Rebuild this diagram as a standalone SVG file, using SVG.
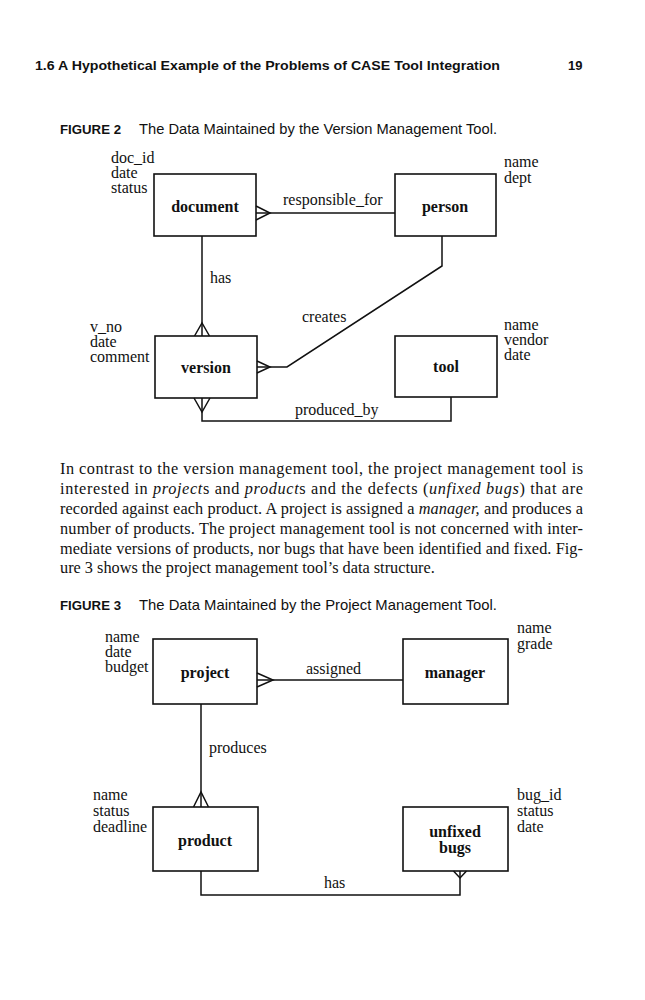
<svg xmlns="http://www.w3.org/2000/svg" width="645" height="1000" viewBox="0 0 645 1000">
<style>
.bg{fill:#ffffff}
.box{fill:none;stroke:#111;stroke-width:1.6}
.ln{fill:none;stroke:#111;stroke-width:1.5}
.ent{font-family:"Liberation Serif",serif;font-weight:bold;font-size:16px;fill:#111;text-anchor:middle}
.att{font-family:"Liberation Serif",serif;font-size:16px;fill:#111}
.lbl{font-family:"Liberation Serif",serif;font-size:16px;fill:#111}
.hdr{font-family:"Liberation Sans",Arial,sans-serif;font-weight:bold;font-size:13px;fill:#111}
.figk{font-family:"Liberation Sans",Arial,sans-serif;font-weight:bold;font-size:12.5px;fill:#111}
.figt{font-family:"Liberation Sans",Arial,sans-serif;font-size:14.5px;fill:#111}
.para{font-family:"Liberation Serif",serif;font-size:16.3px;fill:#111}
.it{font-style:italic}
</style>
<rect class="bg" x="0" y="0" width="645" height="1000"/>
<g id="header">
<text class="hdr" x="35" y="70" textLength="465" lengthAdjust="spacingAndGlyphs">1.6 A Hypothetical Example of the Problems of CASE Tool Integration</text>
<text class="hdr" x="568" y="70">19</text>
</g>
<g id="caption2">
<text class="figk" x="60" y="134" textLength="61" lengthAdjust="spacingAndGlyphs">FIGURE 2</text>
<text class="figt" x="139" y="134" textLength="358" lengthAdjust="spacingAndGlyphs">The Data Maintained by the Version Management Tool.</text>
</g>
<g id="connectors">
<path class="ln" d="M256,213 H395"/>
<path class="ln" d="M256,206 L270,213 L256,220"/>
<path class="ln" d="M202,236 V336"/>
<path class="ln" d="M194.5,336 L202,323 L209.5,336"/>
<path class="ln" d="M257,367 H287 L442,266 V236"/>
<path class="ln" d="M257,361 L270,367 L257,373"/>
<path class="ln" d="M202,398 V421 H451 V397"/>
<path class="ln" d="M194,398 L202,412 L210,398"/>
<path class="ln" d="M257,680 H403"/>
<path class="ln" d="M257,673 L273,680 L257,687"/>
<path class="ln" d="M201,704 V807"/>
<path class="ln" d="M193.5,807 L201,792 L208.5,807"/>
<path class="ln" d="M201,871 V895 H460 V871"/>
<path class="ln" d="M453.5,871 L460,878 L466.5,871"/>
</g>
<g id="labels">
<text class="lbl" x="283" y="205">responsible_for</text>
<text class="lbl" x="210" y="283">has</text>
<text class="lbl" x="302" y="322">creates</text>
<text class="lbl" x="295" y="415">produced_by</text>
<text class="lbl" x="306" y="674">assigned</text>
<text class="lbl" x="209" y="753">produces</text>
<text class="lbl" x="324" y="888">has</text>
</g>
<g id="document">
<rect class="box" x="154" y="174" width="102" height="62"/>
<text class="ent" x="205" y="212">document</text>
<text class="att" x="111" y="163">doc_id</text>
<text class="att" x="111" y="178">date</text>
<text class="att" x="111" y="193">status</text>
</g>
<g id="person">
<rect class="box" x="395" y="174" width="101" height="62"/>
<text class="ent" x="445" y="212">person</text>
<text class="att" x="504" y="167">name</text>
<text class="att" x="504" y="183">dept</text>
</g>
<g id="version">
<rect class="box" x="155" y="336" width="102" height="62"/>
<text class="ent" x="206" y="373">version</text>
<text class="att" x="90" y="332">v_no</text>
<text class="att" x="90" y="347">date</text>
<text class="att" x="90" y="362">comment</text>
</g>
<g id="tool">
<rect class="box" x="395" y="336" width="102" height="61"/>
<text class="ent" x="446" y="372">tool</text>
<text class="att" x="504" y="330">name</text>
<text class="att" x="504" y="345">vendor</text>
<text class="att" x="504" y="360">date</text>
</g>
<g id="paragraph">
<text class="para" x="60" y="474" textLength="523" lengthAdjust="spacing">In contrast to the version management tool, the project management tool is</text>
<text class="para" x="60" y="494" textLength="523" lengthAdjust="spacing">interested in <tspan class="it">project</tspan>s and <tspan class="it">product</tspan>s and the defects (<tspan class="it">unfixed bugs</tspan>) that are</text>
<text class="para" x="60" y="514" textLength="523" lengthAdjust="spacing">recorded against each product. A project is assigned a <tspan class="it">manager,</tspan> and produces a</text>
<text class="para" x="60" y="534" textLength="523" lengthAdjust="spacing">number of products. The project management tool is not concerned with inter-</text>
<text class="para" x="60" y="554" textLength="523" lengthAdjust="spacing">mediate versions of products, nor bugs that have been identified and fixed. Fig-</text>
<text class="para" x="60" y="573">ure 3 shows the project management tool’s data structure.</text>
</g>
<g id="caption3">
<text class="figk" x="60" y="610" textLength="61" lengthAdjust="spacingAndGlyphs">FIGURE 3</text>
<text class="figt" x="139" y="610" textLength="358" lengthAdjust="spacingAndGlyphs">The Data Maintained by the Project Management Tool.</text>
</g>
<g id="project">
<rect class="box" x="153" y="639" width="104" height="65"/>
<text class="ent" x="205" y="678">project</text>
<text class="att" x="105" y="642">name</text>
<text class="att" x="105" y="657">date</text>
<text class="att" x="105" y="672">budget</text>
</g>
<g id="manager">
<rect class="box" x="403" y="639" width="105" height="65"/>
<text class="ent" x="455" y="678">manager</text>
<text class="att" x="517" y="633">name</text>
<text class="att" x="517" y="649">grade</text>
</g>
<g id="product">
<rect class="box" x="153" y="807" width="105" height="64"/>
<text class="ent" x="205" y="846">product</text>
<text class="att" x="93" y="800">name</text>
<text class="att" x="93" y="816">status</text>
<text class="att" x="93" y="832">deadline</text>
</g>
<g id="unfixed_bugs">
<rect class="box" x="403" y="807" width="105" height="64"/>
<text class="ent" x="455" y="837">unfixed</text>
<text class="ent" x="455" y="853">bugs</text>
<text class="att" x="517" y="800">bug_id</text>
<text class="att" x="517" y="816">status</text>
<text class="att" x="517" y="832">date</text>
</g>
</svg>
